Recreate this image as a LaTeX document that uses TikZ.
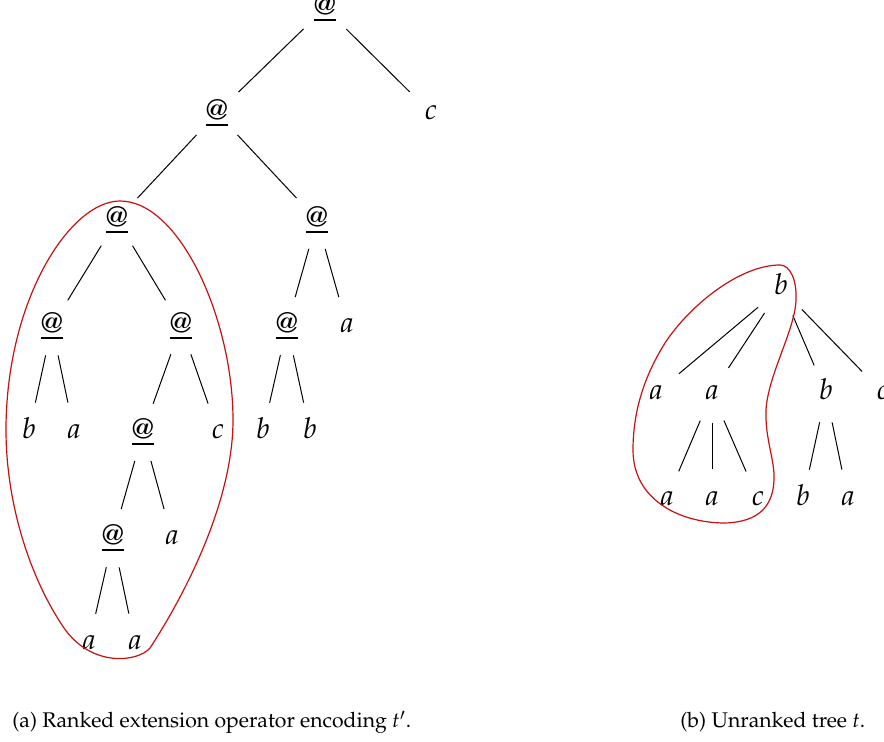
\documentclass[tikz,border=0pt]{standalone}
\usepackage[T1]{fontenc}
\usepackage{mathpazo}
\usetikzlibrary{calc}

\tikzset{
  lbl/.style={font=\fontsize{14.4}{17}\selectfont, inner sep=0pt, anchor=base,
              text height=7pt, text depth=0pt},
  edge/.style={line width=0.5pt, shorten <=15pt, shorten >=15pt},
  hull/.style={draw={rgb,255:red,200;green,16;blue,16}, line width=0.6pt},
  captiontext/.style={font=\fontsize{10.6}{13}\selectfont, inner sep=0pt, anchor=base west},
}
% application symbol: @ with a firm underline
\newcommand{\app}{\vtop{\hbox{@}\kern1.6pt\hrule height 0.9pt}}

\begin{document}
\begin{tikzpicture}[x=0.5pt, y=-0.5pt]
  \useasboundingbox (0,0) rectangle (884,742);

  % ---- ranked encoding with extension operator ----
  \node[lbl] (r)  at (325,15)  {\app};
  \node[lbl] (n1) at (217,120) {\app};
  \node[lbl] (c1) at (431,120) {$c$};
  \node[lbl] (n2) at (117,227) {\app};
  \node[lbl] (n3) at (317,227) {\app};
  \node[lbl] (n4) at (52,333)  {\app};
  \node[lbl] (n5) at (181,333) {\app};
  \node[lbl] (n6) at (287,333) {\app};
  \node[lbl] (a1) at (347,333) {$a$};
  \node[lbl] (b1) at (29,439)  {$b$};
  \node[lbl] (a2) at (74,439)  {$a$};
  \node[lbl] (n7) at (143,439) {\app};
  \node[lbl] (c2) at (218,439) {$c$};
  \node[lbl] (b2) at (263,439) {$b$};
  \node[lbl] (b3) at (310,439) {$b$};
  \node[lbl] (n8) at (113,545) {\app};
  \node[lbl] (a3) at (172,545) {$a$};
  \node[lbl] (a4) at (89,650)  {$a$};
  \node[lbl] (a5) at (135,650) {$a$};

  \foreach \p/\c in {r/n1, r/c1, n1/n2, n1/n3, n2/n4, n2/n5, n3/n6, n3/a1,
                     n4/b1, n4/a2, n5/n7, n5/c2, n6/b2, n6/b3,
                     n7/n8, n7/a3, n8/a4, n8/a5}
    \draw[edge] (\p.center) -- (\c.center);

  % egg-shaped outline around the left subtree
  \draw[hull] (120,201)
    .. controls (180,201) and (233,320) .. (233,420)
    .. controls (233,510) and (175,610) .. (150,648)
    .. controls (138,662) and (92,668) .. (64,628)
    .. controls (28,575) and (6,500) .. (6,430)
    .. controls (6,300) and (70,201) .. cycle;

  % ---- unranked tree ----
  \node[lbl] (rb)  at (781,295) {$b$};
  \node[lbl] (ba1) at (656,400) {$a$};
  \node[lbl] (ba2) at (712,400) {$a$};
  \node[lbl] (bb1) at (826,400) {$b$};
  \node[lbl] (bc1) at (883,400) {$c$};
  \node[lbl] (ba3) at (667,506) {$a$};
  \node[lbl] (ba4) at (712,506) {$a$};
  \node[lbl] (bc2) at (758,506) {$c$};
  \node[lbl] (bb2) at (803,506) {$b$};
  \node[lbl] (ba5) at (848,506) {$a$};

  \foreach \p/\c in {rb/ba1, rb/ba2, rb/bb1, rb/bc1, ba2/ba3, ba2/ba4, ba2/bc2,
                     bb1/bb2, bb1/ba5}
    \draw[edge] (\p.center) -- (\c.center);

  % outline around the root, its first two children and their subtrees
  \draw[hull] (780,265)
    .. controls (790,265) and (797,280) .. (796,300)
    .. controls (795,330) and (768,375) .. (766,410)
    .. controls (765,440) and (775,460) .. (774,480)
    .. controls (773,505) and (760,522) .. (725,523)
    .. controls (680,523) and (633,500) .. (633,450)
    .. controls (633,410) and (645,375) .. (665,343)
    .. controls (690,305) and (740,265) .. cycle;

  % ---- captions ----
  \node[captiontext] (capa) at (12,728)  {(a) Ranked extension operator encoding $t'$.};
  \node[captiontext] (capb) at (680,728) {(b) Unranked tree $t$.};
\end{tikzpicture}
\end{document}
